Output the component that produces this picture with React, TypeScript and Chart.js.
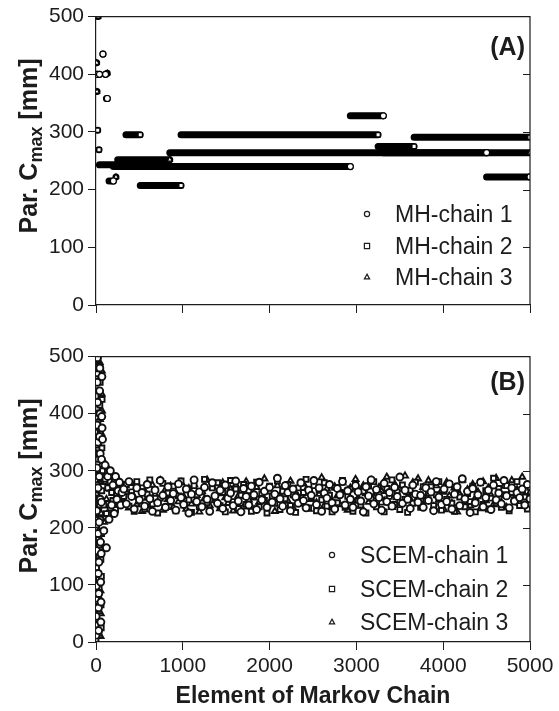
import React, { useEffect, useRef } from "react";
import { Chart, registerables } from "chart.js";

Chart.register(...registerables);

const FONT = "'Liberation Sans', Arial, Helvetica, sans-serif";
const INK = "#1c1c1c";

const X_TICKS = [0, 1000, 2000, 3000, 4000, 5000];
const Y_TICKS = [0, 100, 200, 300, 400, 500];
const Y_INNER_TICKS = [100, 200, 300, 400];

const MH_LABELS = ["MH-chain 1", "MH-chain 2", "MH-chain 3"];
const SCEM_LABELS = ["SCEM-chain 1", "SCEM-chain 2", "SCEM-chain 3"];
const MARKERS = ["circle", "rect", "triangle"];

// MH chains: runs of constant value [startIteration, endIteration, value]
const MH1_RUNS = [
  [15, 15, 400], [40, 40, 400], [80, 80, 435], [110, 110, 400], [120, 130, 358],
  [150, 200, 215], [200, 2930, 240], [2930, 3310, 328], [3310, 4500, 264], [4500, 5000, 222],
];
const MH2_RUNS = [
  [20, 20, 303], [35, 35, 269], [40, 345, 243], [345, 510, 295], [510, 980, 207],
  [980, 3250, 295], [3250, 3665, 275], [3665, 5000, 291],
];
const MH3_RUNS = [
  [8, 8, 420], [12, 12, 370], [25, 25, 500], [130, 130, 402], [230, 230, 222],
  [250, 850, 252], [850, 5000, 264],
];

// SCEM chains: early (iter 0..70 step 2), mid (iter 75..300 step 15), late (iter 320..5000 step 30)
const EARLY_STEP = 2;
const MID_START = 75;
const MID_STEP = 15;
const LATE_START = 320;
const LATE_STEP = 30;

const SCEM1_EARLY = [12, 45, 98, 160, 230, 305, 380, 455, 498, 420, 350, 270, 190, 120, 60, 20, 85, 140, 210, 290, 360, 440, 480, 400, 330, 250, 175, 105, 35, 70, 155, 245, 320, 395, 465, 375];
const SCEM1_MID = [355, 195, 310, 165, 290, 215, 300, 240, 275, 225, 290, 250, 265, 280, 240, 262];
const SCEM1_LATE = [
  268, 242, 281, 255, 233, 270, 249, 262, 238, 276,
  251, 229, 266, 244, 283, 257, 236, 272, 248, 260,
  231, 277, 253, 241, 268, 226, 259, 284, 246, 263,
  237, 271, 250, 229, 279, 256, 243, 266, 234, 275,
  252, 261, 239, 282, 247, 228, 269, 255, 240, 273,
  258, 232, 280, 249, 264, 236, 271, 245, 259, 287,
  251, 238, 274, 262, 230, 268, 254, 243, 279, 248,
  235, 266, 257, 283, 241, 270, 229, 261, 252, 276,
  244, 233, 269, 258, 281, 240, 265, 250, 236, 274,
  263, 247, 228, 272, 256, 284, 242, 267, 253, 231,
  278, 246, 262, 238, 271, 255, 289, 243, 266, 250,
  234, 275, 259, 245, 257, 236, 270, 248, 263, 230,
  281, 254, 241, 268, 246, 277, 233, 259, 272, 239,
  286, 251, 264, 227, 269, 244, 258, 280, 237, 253,
  266, 232, 275, 249, 261, 242, 283, 256, 235, 270,
  247, 262, 253, 268, 240, 276, 251,
];

const SCEM2_EARLY = [5, 30, 75, 130, 205, 275, 345, 410, 470, 495, 440, 385, 320, 250, 180, 110, 55, 15, 95, 170, 240, 330, 415, 480, 455, 365, 290, 215, 145, 65, 25, 115, 190, 265, 340, 425];
const SCEM2_MID = [300, 240, 285, 225, 270, 290, 235, 262, 248, 280, 232, 258, 270, 244, 276, 253];
const SCEM2_LATE = [
  255, 276, 238, 263, 229, 281, 247, 270, 233, 259,
  284, 242, 267, 226, 252, 278, 236, 261, 245, 273,
  230, 256, 282, 240, 268, 249, 227, 274, 258, 237,
  263, 285, 244, 231, 270, 253, 279, 239, 262, 228,
  251, 283, 246, 268, 234, 257, 276, 241, 265, 229,
  254, 280, 237, 260, 248, 226, 273, 256, 243, 282,
  232, 264, 251, 276, 239, 258, 227, 270, 246, 262,
  285, 235, 253, 274, 230, 266, 249, 279, 238, 257,
  228, 271, 244, 262, 283, 236, 255, 268, 229, 277,
  248, 240, 264, 226, 273, 252, 281, 237, 259, 245,
  228, 269, 255, 284, 241, 263, 232, 275, 250, 227,
  266, 243, 280, 254, 236, 272, 248, 261, 272, 239,
  258, 281, 231, 264, 250, 276, 243, 229, 267, 254,
  284, 237, 260, 246, 273, 228, 256, 279, 241, 265,
  233, 252, 287, 244, 269, 236, 258, 274, 230, 262,
  248, 281, 239, 266, 254, 233, 271,
];

const SCEM3_EARLY = [25, 70, 140, 215, 260, 330, 400, 470, 500, 455, 375, 300, 235, 150, 80, 35, 120, 195, 280, 345, 425, 490, 390, 265, 180, 90, 10, 50, 165, 225, 310, 365, 435, 475, 405, 285];
const SCEM3_MID = [320, 210, 280, 250, 305, 230, 268, 245, 290, 238, 272, 256, 242, 281, 249, 266];
const SCEM3_LATE = [
  247, 262, 235, 278, 254, 241, 270, 229, 265, 252,
  238, 275, 259, 244, 283, 231, 267, 250, 273, 236,
  261, 246, 280, 255, 233, 269, 242, 276, 257, 228,
  264, 251, 284, 239, 272, 248, 260, 234, 279, 253,
  243, 268, 230, 275, 256, 262, 237, 281, 249, 266,
  232, 271, 245, 258, 286, 240, 263, 252, 229, 274,
  257, 238, 269, 247, 282, 235, 261, 254, 242, 277,
  266, 233, 250, 273, 244, 259, 288, 239, 268, 253,
  236, 272, 256, 241, 279, 263, 231, 270, 248, 285,
  252, 238, 274, 260, 245, 283, 255, 240, 271, 264,
  247, 289, 258, 236, 277, 253, 268, 243, 291, 262,
  250, 279, 245, 286, 257, 271, 248, 283, 261, 237,
  274, 249, 265, 232, 280, 256, 243, 270, 228, 259,
  284, 246, 267, 239, 276, 252, 263, 234, 281, 248,
  270, 257, 241, 287, 262, 245, 273, 236, 259, 283,
  250, 267, 244, 289, 256, 274, 262,
];

function runsToData(runs: number[][]) {
  const out: any[] = [];
  for (const [s, e, v] of runs) {
    if (e > s) out.push({ x: s, y: v, m: false });
    out.push({ x: e, y: v, m: true });
    out.push({ x: e, y: null, m: false });
  }
  return out;
}

function chainPoints(early: number[], mid: number[], late: number[]) {
  return [
    ...early.map((v, i) => ({ x: i * EARLY_STEP, y: v })),
    ...mid.map((v, i) => ({ x: MID_START + i * MID_STEP, y: v })),
    ...late.map((v, i) => ({ x: LATE_START + i * LATE_STEP, y: v })),
  ];
}

function drawMarker(ctx: CanvasRenderingContext2D, style: string, x: number, y: number, r: number) {
  ctx.save();
  ctx.fillStyle = "#fff";
  ctx.strokeStyle = INK;
  ctx.lineWidth = 1.2;
  ctx.beginPath();
  if (style === "circle") {
    ctx.arc(x, y, r, 0, Math.PI * 2);
  } else if (style === "rect") {
    ctx.rect(x - r, y - r, 2 * r, 2 * r);
  } else {
    ctx.moveTo(x, y - r * 1.1);
    ctx.lineTo(x + r, y + r * 0.75);
    ctx.lineTo(x - r, y + r * 0.75);
    ctx.closePath();
  }
  ctx.fill();
  ctx.stroke();
  ctx.restore();
}

function drawYTitle(ctx: CanvasRenderingContext2D, bx: number, cy: number) {
  const big = `bold 25px ${FONT}`;
  const small = `bold 18px ${FONT}`;
  const parts: [string, string, number][] = [
    ["Par. C", big, 0],
    ["max", small, 5],
    [" [mm]", big, 0],
  ];
  ctx.save();
  ctx.translate(bx, cy);
  ctx.rotate(-Math.PI / 2);
  ctx.fillStyle = INK;
  ctx.textBaseline = "alphabetic";
  ctx.textAlign = "left";
  let total = 0;
  const widths = parts.map(([t, f]) => {
    ctx.font = f;
    const w = ctx.measureText(t).width;
    total += w;
    return w;
  });
  let x = -total / 2;
  parts.forEach(([t, f, dy], i) => {
    ctx.font = f;
    ctx.fillText(t, x, dy);
    x += widths[i];
  });
  ctx.restore();
}

function makeOptions(panel: "A" | "B") {
  const isA = panel === "A";
  const legendLabels = isA ? MH_LABELS : SCEM_LABELS;
  const framePlugin = {
    id: "frame" + panel,
    afterDraw(chart: any) {
      const { ctx, chartArea } = chart;
      const ys = chart.scales.y;
      ctx.save();
      ctx.strokeStyle = INK;
      ctx.lineWidth = 1.2;
      ctx.beginPath();
      ctx.moveTo(chartArea.left, chartArea.top);
      ctx.lineTo(chartArea.right, chartArea.top);
      ctx.lineTo(chartArea.right, chartArea.bottom);
      ctx.stroke();
      ctx.lineWidth = 1;
      Y_INNER_TICKS.forEach((v) => {
        const py = Math.round(ys.getPixelForValue(v)) + 0.5;
        ctx.beginPath();
        ctx.moveTo(chartArea.right, py);
        ctx.lineTo(chartArea.right - 7, py);
        ctx.stroke();
      });
      ctx.restore();

      drawYTitle(ctx, 37, 146);

      // panel label
      ctx.save();
      ctx.fillStyle = INK;
      ctx.font = `bold 25px ${FONT}`;
      ctx.textAlign = "right";
      ctx.textBaseline = "alphabetic";
      ctx.fillText(isA ? "(A)" : "(B)", 525, isA ? 55 : 50);
      ctx.restore();

      // legend
      const mx = isA ? 367 : 332;
      const tx = isA ? 395 : 360;
      const baselines = isA ? [222, 254, 285] : [223, 257, 290];
      ctx.save();
      ctx.font = `23px ${FONT}`;
      ctx.fillStyle = INK;
      ctx.textAlign = "left";
      ctx.textBaseline = "alphabetic";
      legendLabels.forEach((label, i) => {
        drawMarker(ctx, MARKERS[i], mx, baselines[i] - 8, 2.6);
        ctx.fillStyle = INK;
        ctx.fillText(label, tx, baselines[i]);
      });
      ctx.restore();

      if (!isA) {
        ctx.save();
        ctx.fillStyle = INK;
        ctx.font = `bold 23px ${FONT}`;
        ctx.textAlign = "center";
        ctx.textBaseline = "alphabetic";
        ctx.fillText("Element of Markov Chain", (chartArea.left + chartArea.right) / 2, 363);
        ctx.restore();
      }
    },
  };

  const datasets = isA
    ? [MH1_RUNS, MH2_RUNS, MH3_RUNS].map((runs, i) => ({
        label: MH_LABELS[i],
        data: runsToData(runs),
        showLine: true,
        spanGaps: false,
        borderColor: "#000",
        borderWidth: 7,
        borderCapStyle: "round",
        borderJoinStyle: "round",
        pointStyle: MARKERS[i],
        pointRadius: (c: any) => (c.raw && c.raw.m ? 3 : 0),
        pointBackgroundColor: "#fff",
        pointBorderColor: "#000",
        pointBorderWidth: 1.2,
      }))
    : [
        chainPoints(SCEM1_EARLY, SCEM1_MID, SCEM1_LATE),
        chainPoints(SCEM2_EARLY, SCEM2_MID, SCEM2_LATE),
        chainPoints(SCEM3_EARLY, SCEM3_MID, SCEM3_LATE),
      ].map((data, i) => ({
        label: SCEM_LABELS[i],
        data,
        showLine: false,
        pointStyle: MARKERS[i],
        pointRadius: 3.5,
        pointBackgroundColor: "#fff",
        pointBorderColor: "#111",
        pointBorderWidth: 1.9,
      }));

  const config: any = {
    type: "scatter",
    data: { datasets },
    options: {
      responsive: false,
      animation: false,
      layout: { padding: { top: isA ? 15 : 12, right: 29, left: 0, bottom: 0 } },
      plugins: { legend: { display: false }, tooltip: { enabled: false }, title: { display: false } },
      scales: {
        x: {
          type: "linear",
          min: 0,
          max: 5000,
          afterBuildTicks: (s: any) => {
            s.ticks = X_TICKS.map((v) => ({ value: v }));
          },
          afterFit: (s: any) => {
            s.height = isA ? 35 : 69;
          },
          grid: { drawOnChartArea: false, drawTicks: true, tickLength: 8, tickColor: INK, lineWidth: 1 },
          border: { display: true, color: INK, width: 1.2 },
          ticks: {
            color: isA ? "rgba(0,0,0,0)" : INK,
            font: { family: FONT, size: 21 },
            padding: 4,
            maxRotation: 0,
            autoSkip: false,
            callback: (v: any) => String(v),
          },
        },
        y: {
          type: "linear",
          min: 0,
          max: 500,
          afterBuildTicks: (s: any) => {
            s.ticks = Y_TICKS.map((v) => ({ value: v }));
          },
          afterFit: (s: any) => {
            s.width = 96;
          },
          grid: { drawOnChartArea: false, drawTicks: true, tickLength: 8, tickColor: INK, lineWidth: 1 },
          border: { display: true, color: INK, width: 1.2 },
          ticks: {
            color: INK,
            font: { family: FONT, size: 21 },
            padding: 4,
            autoSkip: false,
            callback: (v: any) => String(v),
          },
        },
      },
    },
    plugins: [framePlugin],
  };
  return config;
}

function Panel({ panel, top, height }: { panel: "A" | "B"; top: number; height: number }) {
  const ref = useRef<HTMLCanvasElement | null>(null);
  useEffect(() => {
    if (!ref.current) return;
    const chart = new Chart(ref.current, makeOptions(panel));
    return () => chart.destroy();
  }, [panel]);
  return (
    <canvas
      ref={ref}
      width={559}
      height={height}
      style={{ position: "absolute", left: 0, top, width: 559, height, display: "block" }}
    />
  );
}

export default function App() {
  return (
    <div style={{ position: "absolute", left: 0, top: 0, width: 559, height: 711, background: "#fff" }}>
      <Panel panel="A" top={0} height={340} />
      <Panel panel="B" top={340} height={371} />
    </div>
  );
}
